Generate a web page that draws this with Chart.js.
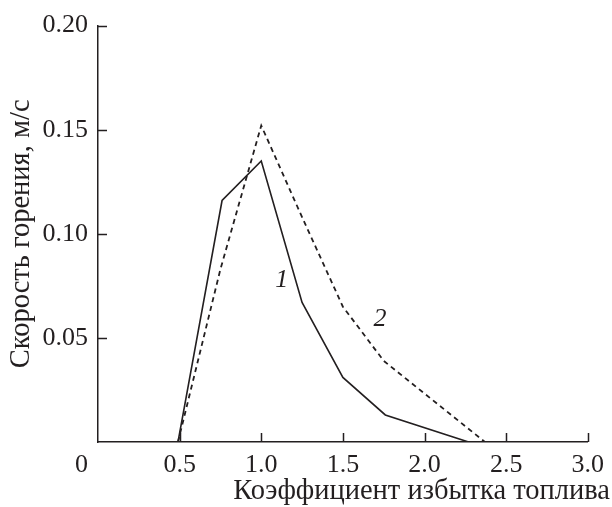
<!DOCTYPE html>
<html>
<head>
<meta charset="utf-8">
<script src="https://cdn.jsdelivr.net/npm/chart.js@4"></script>
<style>
  html, body { margin: 0; padding: 0; background: #fff; }
  #wrap { width: 612px; height: 507px; }
</style>
</head>
<body>
<div id="wrap"><canvas id="chart"></canvas></div>
<script>
// curve 1 (solid)
const excess1 = [0.49, 0.76, 1.0, 1.25, 1.5, 1.76, 2.27];
const speed1 = [0, 0.116, 0.135, 0.067, 0.031, 0.013, 0];
// curve 2 (dashed)
const excess2 = [0.49, 0.75, 1.0, 1.25, 1.5, 1.75, 2.37];
const speed2 = [0, 0.083, 0.152, 0.108, 0.065, 0.039, 0];

const xTitle = 'Коэффициент избытка топлива';
const yTitle = 'Скорость горения, м/с';

const ink = '#231f20';
const serif = 'Liberation Serif';
const tickSize = 26;
const titleSize = 28.5;

const toPoints = (xs, ys) => xs.map((x, i) => ({ x, y: ys[i] }));

// extra drawing: inward ticks, origin label, curve numbers, axis titles
const decorations = {
  id: 'decorations',
  afterDraw(chart) {
    const { ctx, scales: { x, y } } = chart;
    ctx.save();
    ctx.strokeStyle = ink;
    ctx.lineWidth = 1.5;
    ctx.beginPath();
    x.ticks.forEach(t => {
      if (t.value === 0) return;
      const px = Math.round(x.getPixelForValue(t.value)) + 0.5;
      ctx.moveTo(px, y.bottom);
      ctx.lineTo(px, y.bottom - 9);
    });
    y.ticks.forEach(t => {
      if (t.value === 0) return;
      const py = Math.round(y.getPixelForValue(t.value)) + 0.5;
      ctx.moveTo(x.left, py);
      ctx.lineTo(x.left + 9, py);
    });
    ctx.stroke();

    ctx.fillStyle = ink;
    ctx.font = `${tickSize}px "${serif}"`;
    ctx.textAlign = 'right';
    ctx.textBaseline = 'middle';
    ctx.fillText('0', x.left - 10, 465);

    // curve numbers
    ctx.font = `italic ${tickSize}px "${serif}"`;
    ctx.textAlign = 'center';
    ctx.fillText('1', x.getPixelForValue(1.125), y.getPixelForValue(0.0775));
    ctx.fillText('2', x.getPixelForValue(1.727), y.getPixelForValue(0.059));

    // axis titles
    ctx.font = `${titleSize}px "${serif}"`;
    ctx.textAlign = 'right';
    ctx.fillText(xTitle, 610, 492);

    ctx.translate(22, (y.top + y.bottom) / 2);
    ctx.rotate(-Math.PI / 2);
    ctx.textAlign = 'center';
    ctx.fillText(yTitle, 0, 0);
    ctx.restore();
  }
};

new Chart(document.getElementById('chart'), {
  type: 'line',
  data: {
    datasets: [
      {
        label: '1',
        data: toPoints(excess1, speed1),
        borderColor: ink,
        borderWidth: 1.6,
        pointRadius: 0,
        tension: 0,
        fill: false
      },
      {
        label: '2',
        data: toPoints(excess2, speed2),
        borderColor: ink,
        borderWidth: 1.8,
        borderDash: [5, 4],
        pointRadius: 0,
        tension: 0,
        fill: false
      }
    ]
  },
  options: {
    responsive: true,
    maintainAspectRatio: false,
    animation: false,
    layout: { padding: { top: 24, right: 19, bottom: 0, left: 0 } },
    plugins: {
      legend: { display: false },
      tooltip: { enabled: false }
    },
    scales: {
      x: {
        type: 'linear',
        min: 0,
        max: 3,
        grid: { display: false, drawTicks: false },
        border: { display: true, color: ink, width: 1.5 },
        ticks: {
          stepSize: 0.5,
          padding: 8,
          color: ink,
          font: { family: serif, size: tickSize },
          maxRotation: 0,
          callback: v => (v === 0 ? '' : v.toFixed(1))
        },
        afterFit: s => { s.height = 65; }
      },
      y: {
        type: 'linear',
        min: 0,
        max: 0.2,
        grid: { display: false, drawTicks: false },
        border: { display: true, color: ink, width: 1.5 },
        ticks: {
          stepSize: 0.05,
          padding: 10,
          color: ink,
          font: { family: serif, size: tickSize },
          callback: v => (v === 0 ? '' : v.toFixed(2))
        },
        afterFit: s => { s.width = 98; }
      }
    }
  },
  plugins: [decorations]
});
</script>
</body>
</html>
